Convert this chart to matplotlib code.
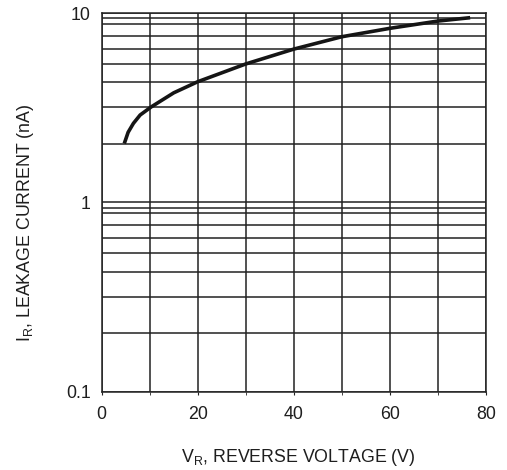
"""Leakage current vs reverse voltage (datasheet style curve)"""
import matplotlib
matplotlib.use("Agg")
import matplotlib.pyplot as plt
from matplotlib.ticker import NullFormatter

plt.rcParams["font.family"] = ["Liberation Sans", "DejaVu Sans"]
plt.rcParams["mathtext.default"] = "regular"

# curve
v_r = [4.7, 5.5, 6.6, 8.0, 10.3, 15, 20, 30, 40, 50, 60, 70, 76.7]
i_r = [2.05, 2.35, 2.62, 2.90, 3.2, 3.8, 4.35, 5.4, 6.47, 7.52, 8.33, 9.1, 9.48]

# axis ticks and grid lines (the printed grid is not exactly logarithmic)
x_major = [0, 20, 40, 60, 80]
x_minor = [10, 30, 50, 70]
y_major = [0.1, 1, 10]
y_labels = ["0.1", "1", "10"]
y_minor = [0.205, 0.318, 0.431, 0.540, 0.648, 0.762, 0.879, 0.934,
           2.05, 3.18, 4.35, 5.40, 6.47, 7.61, 8.78, 9.41]

ink = "#222222"
fs = 12.8

fig = plt.figure(figsize=(5.07, 4.70), dpi=100)
ax = fig.add_axes([0.2006, 0.1666, 0.758, 0.8051])

ax.plot(v_r, i_r, color="#151515", lw=2.6, solid_capstyle="butt")

ax.set_yscale("log")
ax.set_xlim(0, 80)
ax.set_ylim(0.1, 10)

ax.set_xticks(x_major)
ax.set_xticks(x_minor, minor=True)
ax.set_yticks(y_major)
ax.set_yticklabels(y_labels)
ax.set_yticks(y_minor, minor=True)
ax.yaxis.set_minor_formatter(NullFormatter())

ax.grid(True, which="both", color=ink, lw=1.1)
ax.set_axisbelow(True)
for s in ax.spines.values():
    s.set_color(ink)
    s.set_linewidth(1.1)

ax.tick_params(axis="x", which="both", length=2, color=ink, pad=8,
               labelsize=fs, labelcolor="#1e1e1e")
ax.tick_params(axis="y", which="both", length=0, pad=8,
               labelsize=fs, labelcolor="#1e1e1e")

ax.set_xlabel("V$_{R}$, REVERSE VOLTAGE (V)", fontsize=fs, color="#1e1e1e")
ax.xaxis.label.set_va("top")
ax.xaxis.set_label_coords(0.512, -0.146)
ax.set_ylabel("I$_{R}$, LEAKAGE CURRENT (nA)", fontsize=fs, color="#1e1e1e")
ax.yaxis.set_label_coords(-0.17, 0.446)

fig.savefig("out.png", dpi=100)
